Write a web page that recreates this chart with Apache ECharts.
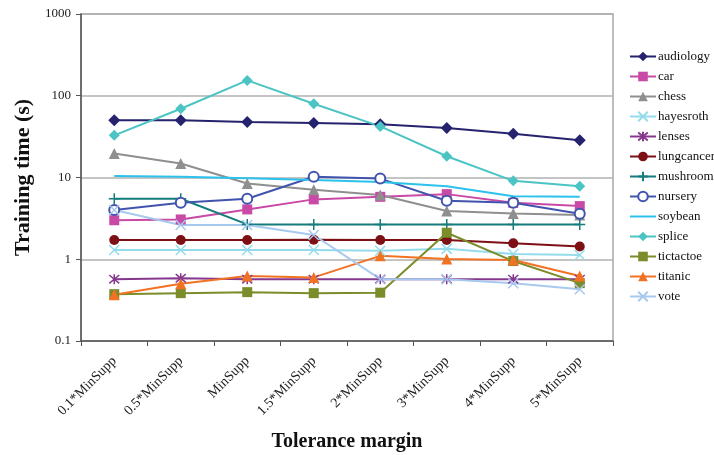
<!DOCTYPE html>
<html>
<head>
<meta charset="utf-8">
<script src="https://cdn.jsdelivr.net/npm/echarts@6/dist/echarts.min.js"></script>
<style>
  html, body { margin: 0; padding: 0; background: #fff; }
  #chart { width: 714px; height: 455px; }
</style>
</head>
<body>
<div id="chart"></div>
<script>
// Tolerance margin settings along the x axis
const categories = ['0.1*MinSupp', '0.5*MinSupp', 'MinSupp', '1.5*MinSupp', '2*MinSupp', '3*MinSupp', '4*MinSupp', '5*MinSupp'];

// Training time (seconds) per dataset
const audiology  = [50, 50, 47.6, 46.3, 44.7, 40.3, 34.4, 28.5];
const car        = [3.0, 3.07, 4.07, 5.4, 5.8, 6.26, 4.9, 4.47];
const chess      = [19.6, 14.8, 8.45, 7.1, 6.1, 3.9, 3.64, 3.47];
const hayesroth  = [1.30, 1.30, 1.30, 1.30, 1.27, 1.34, 1.16, 1.13];
const lenses     = [0.57, 0.586, 0.57, 0.57, 0.57, 0.57, 0.57, 0.57];
const lungcancer = [1.72, 1.72, 1.72, 1.73, 1.72, 1.72, 1.57, 1.43];
const mushroom   = [5.5, 5.5, 2.67, 2.67, 2.67, 2.67, 2.67, 2.67];
const nursery    = [4.0, 4.9, 5.5, 10.2, 9.7, 5.2, 4.9, 3.6];
const soybean    = [10.4, 10.2, 9.8, 9.3, 8.8, 7.8, 5.9, 5.8];
const splice     = [32.8, 69.4, 154, 79.8, 42.2, 18.2, 9.1, 7.8];
const tictactoe  = [0.374, 0.385, 0.396, 0.385, 0.39, 2.11, 0.95, 0.51];
const titanic    = [0.367, 0.5, 0.625, 0.60, 1.1, 1.01, 0.98, 0.625];
const vote       = [4.0, 2.62, 2.62, 1.98, 0.57, 0.57, 0.51, 0.43];

// Y axis tick labels (log scale, base 10)
const yTicks = ['0.1', '1', '10', '100', '1000'];

const SERIF = '"Liberation Serif", "Times New Roman", serif';

// Stroke-only marker shapes
const CROSS    = 'path://M0,0L10,10M10,0L0,10';
const ASTERISK = 'path://M0,0L10,10M10,0L0,10M5,-1L5,11';
const PLUS     = 'path://M5,0L5,10M0,5L10,5';

function line(name, data, color, symbol, size, opts) {
  opts = opts || {};
  const outlined = opts.stroked || opts.empty;
  return {
    name: name,
    type: 'line',
    data: data,
    symbol: symbol,
    symbolSize: size,
    showSymbol: symbol !== 'none',
    lineStyle: { color: color, width: 2 },
    itemStyle: outlined
      ? { color: color, borderColor: color, borderWidth: 1.5 }
      : { color: color, borderWidth: 0 },
    emphasis: { disabled: true }
  };
}

const series = [
  line('audiology',  audiology,  '#25236e', 'diamond', 12),
  line('car',        car,        '#c84aa6', 'rect', 10),
  line('chess',      chess,      '#8f8f8f', 'triangle', 11),
  line('hayesroth',  hayesroth,  '#94dcec', CROSS, 10, { stroked: true }),
  line('lenses',     lenses,     '#86388e', ASTERISK, 10, { stroked: true }),
  line('lungcancer', lungcancer, '#7c1014', 'circle', 10),
  line('mushroom',   mushroom,   '#147c7c', PLUS, 11, { stroked: true }),
  line('nursery',    nursery,    '#4154ad', 'emptyCircle', 10, { empty: true }),
  line('soybean',    soybean,    '#2cc2ec', 'none', 0),
  line('splice',     splice,     '#4cc4c4', 'diamond', 11),
  line('tictactoe',  tictactoe,  '#7b8c2a', 'rect', 10),
  line('titanic',    titanic,    '#f27224', 'triangle', 11),
  line('vote',       vote,       '#a7c9ee', CROSS, 10, { stroked: true })
];

// Legend entries; soybean has no marker, so its key is only the line
const legendData = series.map(s => s.name === 'soybean'
  ? { name: s.name, itemStyle: { color: 'transparent', borderWidth: 0, opacity: 0 } }
  : { name: s.name });

const chart = echarts.init(document.getElementById('chart'), null, { renderer: 'canvas' });
chart.setOption({
  animation: false,
  backgroundColor: '#ffffff',
  grid: {
    left: 81, right: 101, top: 14, bottom: 114,
    outerBoundsMode: 'none',
    containLabel: false,
    show: true, borderColor: '#a8a8a8', borderWidth: 1.5, backgroundColor: 'transparent'
  },
  legend: {
    orient: 'vertical',
    left: 624, top: 45,
    itemWidth: 26, itemHeight: 12, itemGap: 7,
    textStyle: { fontFamily: SERIF, fontSize: 13, color: '#111', padding: [0, 0, 0, -3] },
    data: legendData
  },
  xAxis: {
    type: 'category',
    data: categories,
    boundaryGap: true,
    name: 'Tolerance margin',
    nameLocation: 'middle',
    nameGap: 91,
    nameTextStyle: { fontFamily: SERIF, fontSize: 20, fontWeight: 'bold', color: '#111' },
    axisLine: { lineStyle: { color: '#555', width: 1.5 } },
    axisTick: { show: true, length: 5, inside: false, lineStyle: { color: '#555' } },
    axisLabel: { rotate: 45, margin: 18, fontFamily: SERIF, fontSize: 14, color: '#222', interval: 0 },
    splitLine: { show: false }
  },
  yAxis: {
    type: 'log',
    logBase: 10,
    min: 0.1,
    max: 1000,
    name: 'Training time (s)',
    nameLocation: 'middle',
    nameGap: 47,
    nameTextStyle: { fontFamily: SERIF, fontSize: 22, fontWeight: 'bold', color: '#111' },
    axisLine: { show: true, lineStyle: { color: '#555', width: 1.5 } },
    axisTick: { show: true, length: 5, lineStyle: { color: '#555' } },
    minorTick: { show: false },
    axisLabel: {
      fontFamily: SERIF, fontSize: 13, color: '#222', margin: 10,
      formatter: function (v) {
        const s = String(+v.toPrecision(6));
        return yTicks.indexOf(s) >= 0 ? s : '';
      }
    },
    splitLine: { show: true, lineStyle: { color: '#b0b0b0', width: 1.5 } }
  },
  series: series
});
</script>
</body>
</html>
